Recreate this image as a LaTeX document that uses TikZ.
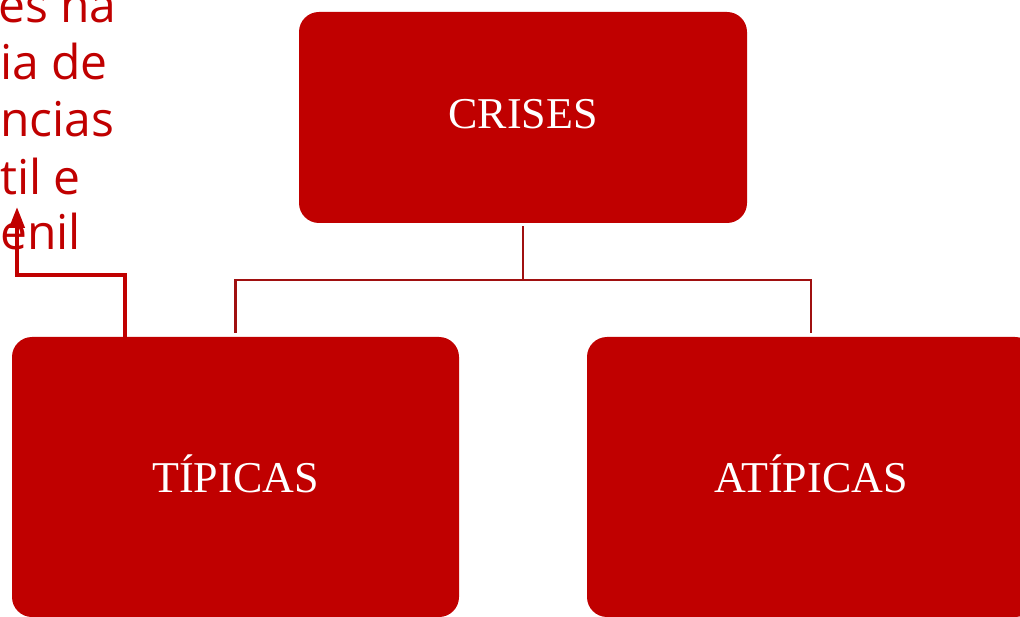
\documentclass[tikz,border=0pt]{standalone}
\usepackage{fontspec}
\setmainfont{Liberation Serif}
\newfontfamily\notefont{Open Sans}
\usetikzlibrary{arrows.meta}
\definecolor{boxred}{HTML}{C00000}
\definecolor{linkred}{HTML}{A01010}
\tikzset{
  crisisbox/.style={fill=boxred, draw=none, rounded corners=20pt,
    text=white, font=\fontsize{44}{48}\selectfont,
    text depth=7pt, inner sep=0pt},
  treelink/.style={draw=linkred, line width=2.2pt},
  notearrow/.style={draw=boxred, line width=4pt,
    -{Triangle[width=15pt,length=21pt]}},
  noteline/.style={text=boxred, font=\notefont\fontsize{48}{50}\selectfont,
    anchor=base west, inner sep=0pt}
}
\begin{document}
\begin{tikzpicture}[x=1pt, y=-1pt]
  \useasboundingbox (0,0) rectangle (1020,617);

  % category boxes
  \node[crisisbox, minimum width=448pt, minimum height=211pt] (top) at (523,117.5) {CRISES};
  \node[crisisbox, minimum width=447pt, minimum height=280pt] (left) at (235.5,477) {TÍPICAS};
  \node[crisisbox, minimum width=448pt, minimum height=280pt] (right) at (811,477) {ATÍPICAS};

  % tree connectors
  \draw[treelink] ([yshift=-3pt]top.south) -- ++(0,54) coordinate (bar)
        -| ([yshift=4pt]left.north);
  \draw[treelink] (bar) -| ([yshift=4pt]right.north);

  % handwritten note
  \node[noteline] (n1) at (-2,23)  {es na};
  \node[noteline] (n2) at (0,80)   {ia de};
  \node[noteline] (n3) at (0,137)  {ncias};
  \node[noteline] (n4) at (0,195)  {til e};
  \node[noteline] (n5) at (0,250)  {enil};

  \coordinate (notetip) at (17,207);
  \draw[notearrow] ([xshift=-110.5pt]left.north) -- ++(0,-62) -| (notetip);
\end{tikzpicture}
\end{document}
